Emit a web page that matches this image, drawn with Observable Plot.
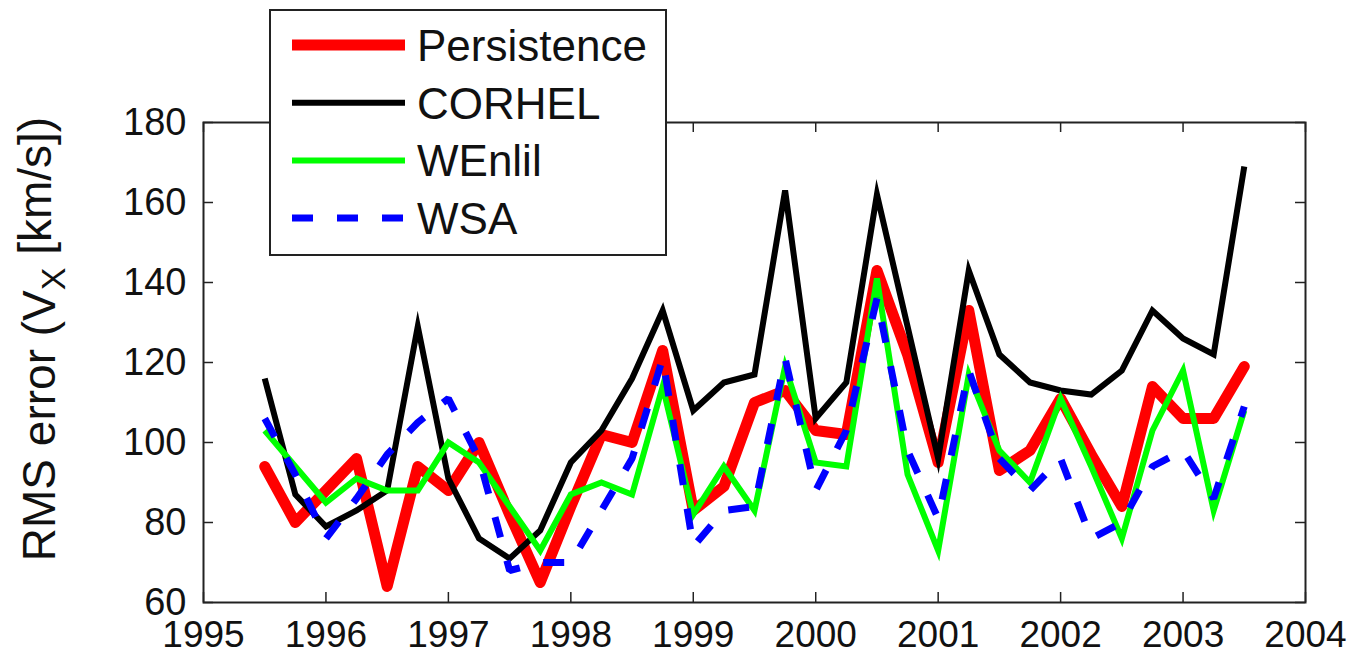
<!DOCTYPE html>
<html><head><meta charset="utf-8">
<script src="https://cdn.jsdelivr.net/npm/d3@7"></script>
<script src="https://cdn.jsdelivr.net/npm/@observablehq/plot@0.6"></script>
<style>
html,body{margin:0;padding:0;background:#fff;}
#chart{width:1353px;height:655px;}
</style></head><body><div id="chart"></div>
<script>
// ---- data ----
const quarters = [1995.5, 1995.75, 1996, 1996.25, 1996.5, 1996.75, 1997, 1997.25, 1997.5, 1997.75,
  1998, 1998.25, 1998.5, 1998.75, 1999, 1999.25, 1999.5, 1999.75, 2000, 2000.25, 2000.5, 2000.75,
  2001, 2001.25, 2001.5, 2001.75, 2002, 2002.25, 2002.5, 2002.75, 2003, 2003.25, 2003.5];
const persistence = [94, 80, 88, 96, 64, 94, 88, 100, 82, 65, 84, 102, 100, 123, 83, 89, 110, 113, 103, 102, 143, 122, 95, 133, 93, 98, 111, 97, 84, 114, 106, 106, 119];
const corhel = [116, 87, 79, 83, 88, 129, 91, 76, 71, 78, 95, 103, 116, 133, 108, 115, 117, 163, 106, 115, 162, 129, 96, 143, 122, 115, 113, 112, 118, 133, 126, 122, 169];
const wenlil = [103, 94, 85, 91, 88, 88, 100, 95, 84, 73, 87, 90, 87, 114, 82, 94, 83, 119, 95, 94, 141, 92, 73, 117, 98, 90, 111, 94, 76, 103, 118, 83, 108];
const wsa = [106, 92, 76, 86, 97, 105, 111, 96, 68, 70, 70, 83, 96, 121, 74, 83, 84, 121, 88, 103, 136, 98, 81, 118, 96, 88, 96, 76, 80, 94, 98, 86, 109];
const seriesNames = ["Persistence", "CORHEL", "WEnlil", "WSA"];
const xTicks = [1995, 1996, 1997, 1998, 1999, 2000, 2001, 2002, 2003, 2004];
const yTicks = [60, 80, 100, 120, 140, 160, 180];

// ---- layout / style ----
const W = 1353, H = 655, mL = 203, mR = 48, mT = 122, mB = 53;
const pw = W - mL - mR, ph = H - mT - mB;
const FONT = "'Liberation Sans', Arial, Helvetica, sans-serif";
const values = {Persistence: persistence, CORHEL: corhel, WEnlil: wenlil, WSA: wsa};
const styles = {
  Persistence: {stroke: "#ff0000", strokeWidth: 11, strokeLinejoin: "round", strokeLinecap: "round"},
  CORHEL: {stroke: "#000000", strokeWidth: 6, strokeLinejoin: "miter", strokeMiterlimit: 6, strokeLinecap: "butt"},
  WEnlil: {stroke: "#00ff00", strokeWidth: 6, strokeLinejoin: "miter", strokeMiterlimit: 6, strokeLinecap: "butt"},
  WSA: {stroke: "#0000ff", strokeWidth: 7, strokeDasharray: "21 24", strokeLinejoin: "miter", strokeLinecap: "butt"}
};

const lineMarks = seriesNames.map(name =>
  Plot.line(quarters.map((q, i) => ({x: q, y: values[name][i]})), {x: "x", y: "y", ...styles[name]})
);

const tickStyle = {stroke: "#222", strokeWidth: 1.5};
const svg = Plot.plot({
  width: W, height: H,
  marginLeft: mL, marginRight: mR, marginTop: mT, marginBottom: mB,
  x: {domain: [1995, 2004]},
  y: {domain: [60, 180]},
  style: {fontFamily: FONT, background: "white", color: "#111", overflow: "visible"},
  marks: [
    Plot.axisX(xTicks, {tickSize: 0, tickPadding: 18, fontSize: 37, tickFormat: d => String(d), label: null}),
    Plot.axisY(yTicks, {tickSize: 0, tickPadding: 17, fontSize: 38, tickFormat: d => String(d), label: null}),
    Plot.tickX(xTicks, {x: d => d, insetTop: ph - 10, ...tickStyle}),
    Plot.tickX(xTicks, {x: d => d, insetBottom: ph - 10, ...tickStyle}),
    Plot.tickY(yTicks, {y: d => d, insetRight: pw - 10, ...tickStyle}),
    Plot.tickY(yTicks, {y: d => d, insetLeft: pw - 10, ...tickStyle}),
    ...lineMarks,
    Plot.frame({stroke: "#222", strokeWidth: 2})
  ]
});
document.getElementById("chart").appendChild(svg);

// ---- y-axis title with subscript ----
const s = d3.select(svg);
const yt = s.append("text")
  .attr("transform", "translate(38,339) rotate(-90)")
  .attr("text-anchor", "middle")
  .attr("dy", "0.36em")
  .attr("font-family", FONT)
  .attr("font-size", 46)
  .attr("fill", "#111");
yt.append("tspan").text("RMS error (V");
yt.append("tspan").attr("font-size", 34).attr("dy", "0.3em").text("X");
yt.append("tspan").attr("dy", "-0.3em").text(" [km/s])");

// ---- legend ----
const lg = s.append("g");
lg.append("rect").attr("x", 270).attr("y", 10).attr("width", 396).attr("height", 245)
  .attr("fill", "white").attr("stroke", "#222").attr("stroke-width", 2);
seriesNames.forEach((name, i) => {
  const y = 45 + i * 57.7;
  const st = styles[name];
  lg.append("line").attr("x1", 292).attr("x2", 405).attr("y1", y).attr("y2", y)
    .attr("stroke", st.stroke).attr("stroke-width", st.strokeWidth)
    .attr("stroke-dasharray", st.strokeDasharray || null);
  lg.append("text").attr("x", 417).attr("y", y).attr("dy", "0.36em")
    .attr("text-anchor", "start")
    .attr("font-family", FONT).attr("font-size", 44).attr("fill", "#111").text(name);
});
</script>
</body></html>
